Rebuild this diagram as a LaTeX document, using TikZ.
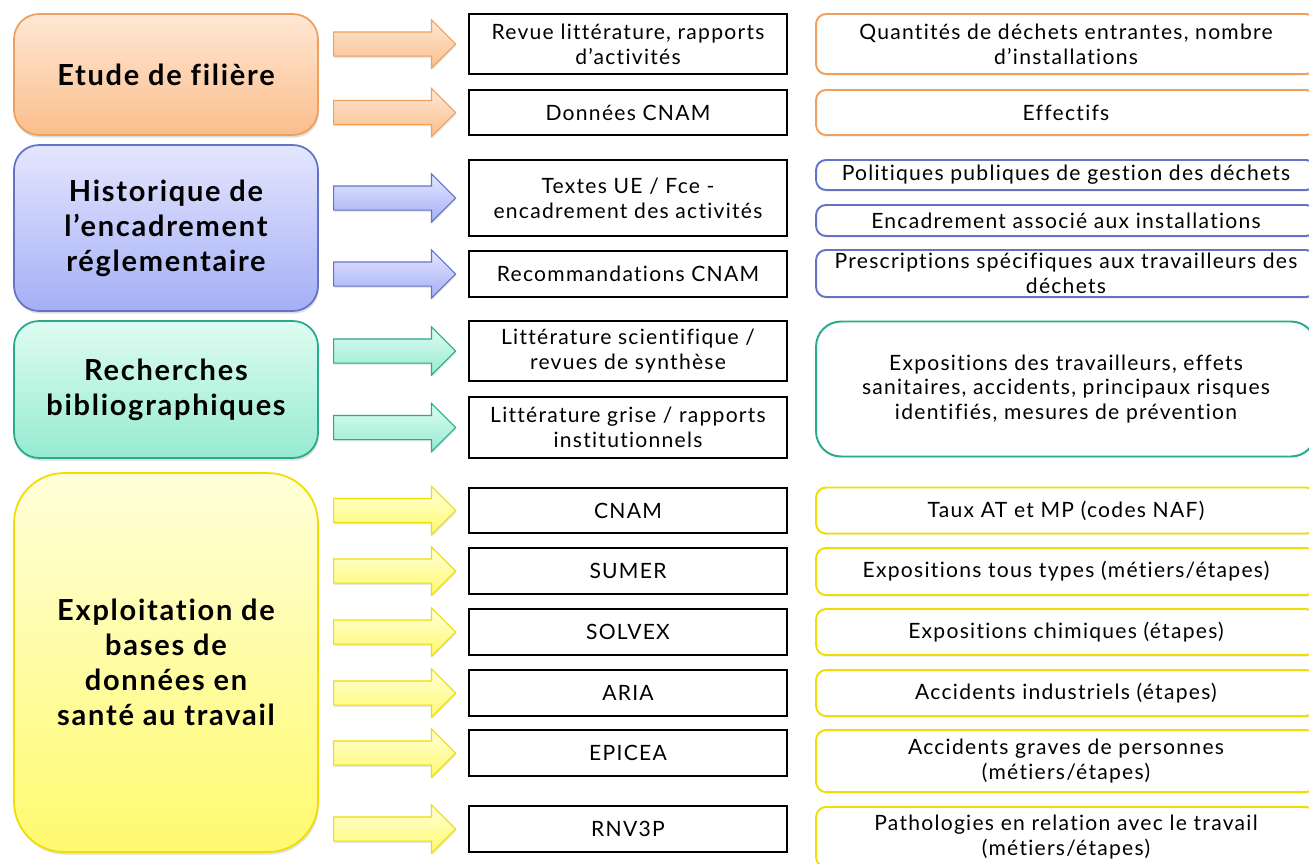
\documentclass[tikz,border=0pt]{standalone}
\usepackage{fontspec}
\setmainfont[LetterSpace=6, Ligatures=NoCommon]{Lato}
\usetikzlibrary{positioning, shapes.arrows, shadows, calc}

\definecolor{oraL}{RGB}{240,160,90}
\definecolor{oraT}{RGB}{254,232,212}
\definecolor{oraB}{RGB}{251,190,140}
\definecolor{bluL}{RGB}{100,115,200}
\definecolor{bluT}{RGB}{228,230,254}
\definecolor{bluB}{RGB}{165,175,245}
\definecolor{grnL}{RGB}{40,170,140}
\definecolor{grnT}{RGB}{222,252,242}
\definecolor{grnB}{RGB}{150,235,208}
\definecolor{yelL}{RGB}{240,222,0}
\definecolor{yelT}{RGB}{255,255,218}
\definecolor{yelB}{RGB}{255,250,110}

\begin{document}
\begin{tikzpicture}[
  x=0.02cm, y=-0.02cm,
  theme/.style={rectangle, draw=#1L, line width=1pt, top color=#1T, bottom color=#1B,
                rounded corners=0.5cm, minimum width=6.08cm, align=center,
                font=\bfseries\fontsize{16.5}{20}\selectfont,
                drop shadow={opacity=0.25, shadow xshift=0.6pt, shadow yshift=-1.5pt}},
  source/.style={rectangle, draw=black, line width=0.9pt, fill=white, inner sep=1pt,
                 minimum width=6.36cm, align=center, font=\fontsize{12}{14.2}\selectfont},
  result/.style={rectangle, draw=#1L, line width=1.1pt, fill=white, inner sep=1pt,
                 rounded corners=0.2cm, minimum width=10cm, align=center,
                 font=\fontsize{12}{14.2}\selectfont,
                 drop shadow={opacity=0.12, shadow xshift=0.4pt, shadow yshift=-1pt}},
  fatarrow/.style={single arrow, draw=#1L, line width=0.6pt, top color=#1T, bottom color=#1B,
                   minimum height=2.44cm, inner xsep=0pt, inner ysep=0.23cm,
                   single arrow head extend=0.24cm, xshift=-0.1cm,
                   drop shadow={opacity=0.2, shadow xshift=0.5pt, shadow yshift=-1pt}}
]
\useasboundingbox (0,0) rectangle (1309,863);
% Themes
\node[theme=ora, minimum height=2.42cm] (etude) at (166,74.5) {Etude de filière};
\node[theme=blu, minimum height=3.32cm] (histo) at (166,228) {Historique de\\ l’encadrement\\ réglementaire};
\node[theme=grn, minimum height=2.74cm] (biblio) at (166,389.5) {Recherches\\ bibliographiques};
\node[theme=yel, minimum height=7.58cm, rounded corners=1cm] (bases) at (166,662.5)
  {Exploitation de\\ bases de\\ données en\\ santé au travail};
% Sources
\node[source, minimum height=1.2cm] (revue) at (628,44) {Revue littérature, rapports\\ d’activités};
\node[source, minimum height=0.9cm] (donnees) at (628,112.5) {Données CNAM};
\node[source, minimum height=1.52cm] (textes) at (628,198) {Textes UE / Fce -\\ encadrement des activités};
\node[source, minimum height=0.92cm] (recom) at (628,274) {Recommandations CNAM};
\node[source, minimum height=1.2cm] (littsci) at (628,351) {Littérature scientifique /\\ revues de synthèse};
\node[source, minimum height=1.22cm] (littgrise) at (628,427.5) {Littérature grise / rapports\\ institutionnels};
\node[source, minimum height=0.9cm] (cnam) at (628,510.5) {CNAM};
\node[source, minimum height=0.92cm] (sumer) at (628,571) {SUMER};
\node[source, minimum height=0.92cm] (solvex) at (628,632) {SOLVEX};
\node[source, minimum height=0.92cm] (aria) at (628,693) {ARIA};
\node[source, minimum height=0.92cm] (epicea) at (628,753) {EPICEA};
\node[source, minimum height=0.92cm] (rnv) at (628,829) {RNV3P};
% Results
\node[result=ora, minimum height=1.2cm] (quant) at (1066,44) {Quantités de déchets entrantes, nombre\\ d’installations};
\node[result=ora, minimum height=0.9cm] (effectifs) at (1066,112.5) {Effectifs};
\node[result=blu, minimum height=0.6cm] (politiques) at (1066,175) {Politiques publiques de gestion des déchets};
\node[result=blu, minimum height=0.62cm] (encadr) at (1066,220.5) {Encadrement associé aux installations};
\node[result=blu, minimum height=0.94cm] (prescr) at (1066,273.5) {Prescriptions spécifiques aux travailleurs des\\ déchets};
\node[result=grn, minimum height=2.7cm, rounded corners=0.5cm] (expos) at (1066,389)
  {Expositions des travailleurs, effets\\ sanitaires, accidents, principaux risques\\ identifiés, mesures de prévention};
\node[result=yel, minimum height=0.92cm] (taux) at (1066,510.5) {Taux AT et MP (codes NAF)};
\node[result=yel, minimum height=0.94cm] (tous) at (1066,571.5) {Expositions tous types (métiers/étapes)};
\node[result=yel, minimum height=0.92cm] (chim) at (1066,632) {Expositions chimiques (étapes)};
\node[result=yel, minimum height=0.92cm] (indus) at (1066,693) {Accidents industriels (étapes)};
\node[result=yel, minimum height=1.24cm] (graves) at (1066,761) {Accidents graves de personnes\\ (métiers/étapes)};
\node[result=yel, minimum height=1.2cm] (patho) at (1066,837) {Pathologies en relation avec le travail\\ (métiers/étapes)};
% Arrows
\foreach \src/\dst/\col in {etude/revue/ora, etude/donnees/ora, histo/textes/blu, histo/recom/blu,
    biblio/littsci/grn, biblio/littgrise/grn, bases/cnam/yel, bases/sumer/yel, bases/solvex/yel,
    bases/aria/yel, bases/epicea/yel, bases/rnv/yel}
  \node[fatarrow=\col] (arr-\dst) at ($(\src.east |- \dst.west)!0.5!(\dst.west)$) {};
\end{tikzpicture}
\end{document}
